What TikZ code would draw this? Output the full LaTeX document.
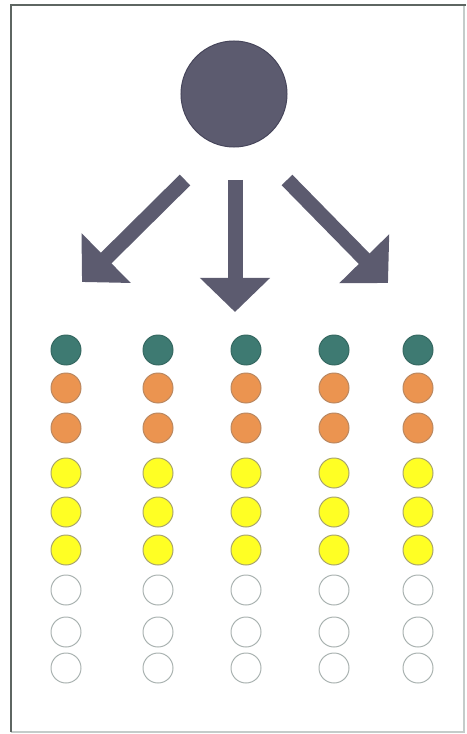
\documentclass[tikz,border=0pt]{standalone}
\usepackage{tikz}
\usetikzlibrary{arrows.meta,positioning}
\definecolor{slate}{HTML}{5C5B6F}
\definecolor{slatedark}{HTML}{46455A}
\definecolor{framegray}{HTML}{5E6662}
\definecolor{framelight}{HTML}{C4CCCA}
\definecolor{tealc}{HTML}{3E7A72}
\definecolor{orangec}{HTML}{EB9450}
\definecolor{orangeline}{HTML}{B98760}
\definecolor{yellowc}{HTML}{FFFF24}
\definecolor{yellowline}{HTML}{A8A46C}
\definecolor{emptyline}{HTML}{A9B2B0}
\tikzset{
  px/.style={x=0.025cm,y=-0.025cm},
  frametop/.style={line width=0.06cm,draw=framegray},
  framelow/.style={line width=0.03cm,draw=framelight},
  bigdot/.style={circle,fill=slate,draw=slatedark,line width=0.7pt,
    minimum size=2.65cm,inner sep=0pt},
  fatarrow/.style={-{Triangle[length=0.85cm,width=1.7cm]},
    line width=0.375cm,draw=slate},
  cdot/.style={circle,minimum size=0.75cm,inner sep=0pt,line width=0.7pt},
  tealdot/.style={cdot,fill=tealc,draw=tealc!85!black},
  orgdot/.style={cdot,fill=orangec,draw=orangeline},
  yeldot/.style={cdot,fill=yellowc,draw=yellowline},
  empdot/.style={cdot,fill=white,draw=emptyline},
}
\begin{document}
\begin{tikzpicture}[px]
  \useasboundingbox (0,0) rectangle (466,734);
  % frame
  \draw[framelow] (11,732) -- (464,732) -- (464,5);
  \draw[frametop] (11,732) -- (11,5) -- (466,5);
  % source
  \node[bigdot] (src) at (234,94) {};
  \coordinate (lft0) at (185,180);
  \coordinate (lft1) at (82,282);
  \coordinate (mid0) at (235,180);
  \coordinate (mid1) at (235,312);
  \coordinate (rgt0) at (287,180);
  \coordinate (rgt1) at (388,283);
  \draw[fatarrow] (lft0) -- (lft1);
  \draw[fatarrow] (mid0) -- (mid1);
  \draw[fatarrow] (rgt0) -- (rgt1);
  % columns of dots
  \foreach \c/\x in {1/66,2/158,3/246,4/334,5/418}
    \foreach \r/\y/\s in {1/350/tealdot,2/388/orgdot,3/428/orgdot,
        4/473/yeldot,5/512/yeldot,6/550/yeldot,
        7/590/empdot,8/632/empdot,9/668/empdot}
      \node[\s] (d\c-\r) at (\x,\y) {};
\end{tikzpicture}
\end{document}
